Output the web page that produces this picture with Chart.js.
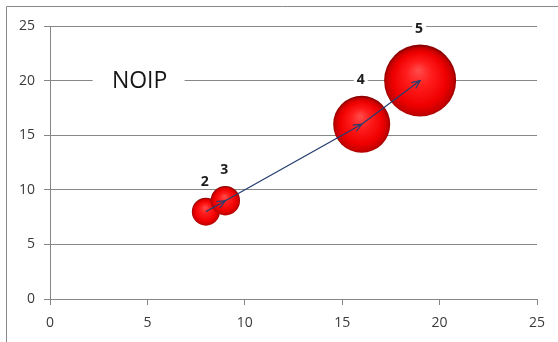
<!DOCTYPE html>
<html>
<head>
<meta charset="utf-8">
<script src="https://cdn.jsdelivr.net/npm/chart.js@4"></script>
<style>
  html, body { margin: 0; padding: 0; background: #ffffff; }
  #wrap { position: relative; width: 558px; height: 342px; }
  canvas { display: block; }
</style>
</head>
<body>
<div id="wrap"><canvas id="c" width="558" height="342"></canvas></div>
<script>
// Bubble positions, sizes (pixel radius) and their step labels
const xValues = [8, 9, 16, 19];
const yValues = [8, 9, 16, 20];
const bubbleRadii = [14, 14.7, 28.5, 36];
const pointLabels = ['2', '3', '4', '5'];
const chartCaption = 'NOIP';

const AXIS_GREY = '#878787';
const TICK_TEXT = '#3a3a3a';
const ARROW_BLUE = '#223d6e';

const bubbleData = xValues.map((x, i) => ({ x: x, y: yValues[i], r: bubbleRadii[i] }));
const pathData = xValues.map((x, i) => ({ x: x, y: yValues[i] }));

// Shaded red sphere fill for each bubble
function sphereFill(ctx) {
  const chart = ctx.chart;
  const sx = chart.scales.x, sy = chart.scales.y;
  if (ctx.type !== 'data' || !sx || !sy || !ctx.raw) return '#e00000';
  const cx = sx.getPixelForValue(ctx.raw.x);
  const cy = sy.getPixelForValue(ctx.raw.y);
  const r = ctx.raw.r;
  if (!isFinite(cx) || !isFinite(cy)) return '#e00000';
  const g = chart.ctx.createRadialGradient(cx - r * 0.05, cy - r * 0.3, 0, cx, cy + r * 0.05, r * 1.02);
  g.addColorStop(0, '#ff4c4c');
  g.addColorStop(0.35, '#ff1c1c');
  g.addColorStop(0.72, '#f00000');
  g.addColorStop(0.9, '#c80000');
  g.addColorStop(1, '#8c0000');
  return g;
}

const decorations = {
  id: 'decorations',
  beforeDraw(chart) {
    const c = chart.ctx;
    c.save();
    c.strokeStyle = '#8a8a8a';
    c.lineWidth = 1;
    c.beginPath();
    c.moveTo(6.5, 342);
    c.lineTo(6.5, 6.5);
    c.lineTo(558, 6.5);
    c.stroke();
    c.restore();
  },
  beforeDatasetsDraw(chart) {
    const c = chart.ctx;
    const sx = chart.scales.x, sy = chart.scales.y;
    const cx = sx.getPixelForValue(4.55);
    const cy = sy.getPixelForValue(20);
    c.save();
    c.fillStyle = '#ffffff';
    c.fillRect(cx - 46, cy - 12, 92, 24);
    c.fillStyle = '#161616';
    c.font = '23px "Open Sans"';
    c.textAlign = 'center';
    c.textBaseline = 'middle';
    c.fillText(chartCaption, cx + 1, cy + 1);
    c.restore();
  },
  afterDatasetsDraw(chart) {
    const c = chart.ctx;
    // open arrowheads at the end of every path segment
    const line = chart.getDatasetMeta(0).data;
    c.save();
    c.strokeStyle = ARROW_BLUE;
    c.lineWidth = 1.2;
    for (let i = 1; i < line.length; i++) {
      const a = line[i - 1], b = line[i];
      const ang = Math.atan2(b.y - a.y, b.x - a.x);
      const len = 9, spread = 0.42;
      c.beginPath();
      c.moveTo(b.x - len * Math.cos(ang - spread), b.y - len * Math.sin(ang - spread));
      c.lineTo(b.x, b.y);
      c.lineTo(b.x - len * Math.cos(ang + spread), b.y - len * Math.sin(ang + spread));
      c.stroke();
    }
    c.restore();

    // step numbers above each bubble
    const bubbles = chart.getDatasetMeta(1).data;
    c.save();
    c.font = 'bold 14px "Open Sans"';
    c.textAlign = 'center';
    c.textBaseline = 'middle';
    bubbles.forEach((el, i) => {
      const r = bubbleRadii[i];
      const tx = el.x - 1;
      const ty = el.y - r - 16;
      const w = c.measureText(pointLabels[i]).width;
      c.fillStyle = '#ffffff';
      c.fillRect(tx - w / 2 - 3, ty - 7, w + 6, 14);
      c.fillStyle = '#1c1c1c';
      c.fillText(pointLabels[i], tx, ty);
    });
    c.restore();
  }
};

new Chart(document.getElementById('c'), {
  data: {
    datasets: [
      {
        type: 'line',
        data: pathData,
        borderColor: ARROW_BLUE,
        borderWidth: 1.2,
        pointRadius: 0,
        fill: false,
        tension: 0,
        order: 0
      },
      {
        type: 'bubble',
        data: bubbleData,
        backgroundColor: sphereFill,
        borderWidth: 0,
        order: 1
      }
    ]
  },
  options: {
    responsive: false,
    animation: false,
    layout: { autoPadding: false, padding: { top: 26, right: 21, left: 0, bottom: 0 } },
    plugins: { legend: { display: false }, tooltip: { enabled: false } },
    scales: {
      x: {
        type: 'linear',
        min: 0,
        max: 25,
        ticks: { stepSize: 5, padding: 10, color: TICK_TEXT, font: { family: 'Open Sans', size: 14 }, maxRotation: 0 },
        grid: { drawOnChartArea: false, drawTicks: true, tickLength: 6, color: AXIS_GREY },
        border: { color: AXIS_GREY, width: 1 },
        afterFit(s) { s.height = 43; }
      },
      y: {
        type: 'linear',
        min: 0,
        max: 25,
        ticks: { stepSize: 5, padding: 9, color: TICK_TEXT, font: { family: 'Open Sans', size: 14 } },
        grid: { color: AXIS_GREY, tickLength: 6 },
        border: { color: AXIS_GREY, width: 1 },
        afterFit(s) { s.width = 50; }
      }
    }
  },
  plugins: [decorations]
});
</script>
</body>
</html>
